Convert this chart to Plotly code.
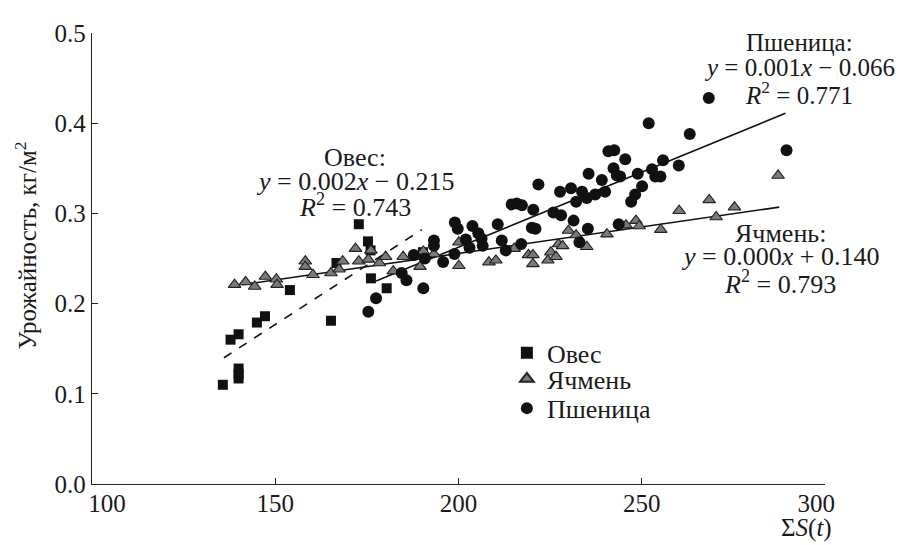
import plotly.graph_objects as go

# ---- data ----
oats_x = [135.7, 137.8, 140.0, 140.0, 140.0, 140.0, 145.0, 147.2, 154.0, 165.2, 166.7,
          172.8, 175.3, 176.0, 176.1, 180.4, 190.3]
oats_y = [0.110, 0.160, 0.166, 0.128, 0.122, 0.117, 0.179, 0.186, 0.215, 0.181, 0.245,
          0.288, 0.269, 0.259, 0.228, 0.217, 0.257]

barley_x = [138.9, 141.9, 144.4, 147.3, 150.3, 150.5, 158.2, 158.2, 160.3, 165.2, 167.4,
            168.4, 171.9, 172.8, 175.4, 176.1, 178.4, 180.1, 182.2, 184.9, 189.5, 190.4,
            193.3, 200.1, 200.1, 208.3, 210.2, 215.2, 219.1, 220.3, 220.3, 224.4, 225.2,
            226.6, 227.3, 228.4, 230.0, 232.1, 235.0, 240.5, 245.7, 248.4, 249.3, 255.2,
            260.2, 268.4, 270.3, 275.3, 287.2]
barley_y = [0.221, 0.224, 0.219, 0.230, 0.227, 0.221, 0.247, 0.241, 0.232, 0.234, 0.238,
            0.247, 0.261, 0.247, 0.249, 0.259, 0.245, 0.252, 0.236, 0.252, 0.241, 0.258,
            0.255, 0.268, 0.242, 0.246, 0.248, 0.261, 0.254, 0.254, 0.244, 0.248, 0.257,
            0.252, 0.266, 0.264, 0.281, 0.276, 0.263, 0.277, 0.287, 0.292, 0.286, 0.282,
            0.303, 0.315, 0.296, 0.307, 0.342]

wheat_x = [175.4, 177.5, 184.5, 185.8, 187.8, 190.4, 190.8, 193.3, 193.3, 195.8, 198.9,
           199.0, 199.8, 202.0, 203.0, 203.8, 205.4, 206.3, 206.6, 210.7, 211.8, 212.9,
           214.5, 215.9, 217.3, 217.1, 220.4, 220.0, 221.0, 221.8, 225.9, 227.7, 228.0,
           230.7, 231.4, 232.1, 233.0, 233.7, 235.0, 235.3, 235.5, 237.3, 239.1, 240.0,
           240.9, 242.5, 242.3, 243.2, 244.1, 245.5, 247.1, 248.2, 248.9, 250.1, 251.9,
           252.8, 253.7, 255.1, 255.8, 260.1, 263.1, 268.3, 289.5, 243.7]
wheat_y = [0.191, 0.206, 0.234, 0.226, 0.254, 0.217, 0.250, 0.270, 0.264, 0.246, 0.255,
           0.290, 0.283, 0.271, 0.262, 0.286, 0.278, 0.272, 0.264, 0.288, 0.270, 0.259,
           0.310, 0.311, 0.309, 0.266, 0.304, 0.284, 0.283, 0.332, 0.301, 0.324, 0.298,
           0.328, 0.292, 0.313, 0.268, 0.324, 0.317, 0.283, 0.344, 0.321, 0.337, 0.324,
           0.369, 0.370, 0.350, 0.342, 0.341, 0.360, 0.313, 0.321, 0.344, 0.330, 0.400,
           0.349, 0.341, 0.341, 0.359, 0.353, 0.388, 0.428, 0.370, 0.288]

# trend line end points (as drawn)
oats_trend_x = [136.0, 190.0]
oats_trend_y = [0.140, 0.282]
barley_trend_x = [141.0, 287.5]
barley_trend_y = [0.221, 0.307]
wheat_trend_x = [177.5, 289.2]
wheat_trend_y = [0.225, 0.411]

x_ticks = [100, 150, 200, 250, 300]
x_tick_labels = ["\u2003\u2009100", "150", "200", "250", "300\u2002\u2009"]
y_ticks = [0.0, 0.1, 0.2, 0.3, 0.4, 0.5]
y_tick_labels = ["0.0", "0.1", "0.2", "0.3", "0.4", "0.5"]

FONT = "Liberation Serif"
TXT = "#1a1a1a"

fig = go.Figure()

fig.add_trace(go.Scatter(x=oats_trend_x, y=oats_trend_y, mode="lines",
                         line=dict(color="#111", width=1.6, dash="dash"), showlegend=False))
fig.add_trace(go.Scatter(x=barley_trend_x, y=barley_trend_y, mode="lines",
                         line=dict(color="#111", width=1.6), showlegend=False))
fig.add_trace(go.Scatter(x=wheat_trend_x, y=wheat_trend_y, mode="lines",
                         line=dict(color="#111", width=1.6), showlegend=False))

fig.add_trace(go.Scatter(x=oats_x, y=oats_y, mode="markers", name="Овес", legend="legend",
                         marker=dict(symbol="square", size=10, color="#111",
                                     line=dict(width=0))))
fig.add_trace(go.Scatter(x=barley_x, y=barley_y, mode="markers", name="Ячмень",
                         legend="legend2",
                         marker=dict(symbol="triangle-up", size=11, color="#7a7a7a",
                                     line=dict(width=1.1, color="#222"))))
fig.add_trace(go.Scatter(x=wheat_x, y=wheat_y, mode="markers", name="Пшеница",
                         legend="legend3",
                         marker=dict(symbol="circle", size=12, color="#111",
                                     line=dict(width=0))))


def ann(text, x, y, size=26):
    return dict(text=text, x=x, y=y, xref="x", yref="y", showarrow=False,
                xanchor="center", yanchor="middle",
                font=dict(family=FONT, size=size, color=TXT))


annotations = [
    ann("Пшеница:", 293.0, 0.489, 25),
    ann("<i>y</i> = 0.001<i>x</i> − 0.066", 293.0, 0.462, 25),
    ann("<i>R</i><sup>2</sup> = 0.771", 293.0, 0.434, 25),
    ann("Овес:", 171.7, 0.362),
    ann("<i>y</i> = 0.002<i>x</i> − 0.215", 171.7, 0.335),
    ann("<i>R</i><sup>2</sup> = 0.743", 171.7, 0.309),
    ann("Ячмень:", 287.8, 0.278),
    ann("<i>y</i> = 0.000<i>x</i> + 0.140", 287.8, 0.252),
    ann("<i>R</i><sup>2</sup> = 0.793", 287.8, 0.223),
    dict(text="Урожайность, кг/м<sup>2</sup>", x=-0.09, y=0.529, xref="paper", yref="paper",
         textangle=-90, showarrow=False, xanchor="center", yanchor="middle",
         font=dict(family=FONT, size=25, color=TXT)),
    dict(text="Σ<i>S</i>(<i>t</i>)", x=295.0, y=-0.097, xref="x", yref="paper",
         showarrow=False, xanchor="center", yanchor="middle",
         font=dict(family=FONT, size=25, color=TXT)),
]

axis_common = dict(showline=True, linecolor="#222", linewidth=1.3, ticks="inside",
                   ticklen=6, tickwidth=1.1, tickcolor="#222", showgrid=False,
                   zeroline=False, tickfont=dict(family=FONT, size=25, color=TXT))

leg_common = dict(xanchor="left", yanchor="middle", bgcolor="rgba(0,0,0,0)",
                  font=dict(family=FONT, size=26, color=TXT), itemsizing="constant")

fig.update_layout(
    width=900, height=537,
    margin=dict(l=84, r=83, t=15, b=61),
    paper_bgcolor="white", plot_bgcolor="white",
    xaxis=dict(range=[100, 300], tickvals=x_ticks, ticktext=x_tick_labels,
               ticklabelstandoff=-3, **axis_common),
    yaxis=dict(range=[0, 0.5], tickvals=y_ticks, ticktext=y_tick_labels,
               **axis_common),
    legend=dict(x=0.566, y=0.291, **leg_common),
    legend2=dict(x=0.566, y=0.233, **leg_common),
    legend3=dict(x=0.566, y=0.168, **leg_common),
    annotations=annotations,
)

fig.write_html("out.html")
